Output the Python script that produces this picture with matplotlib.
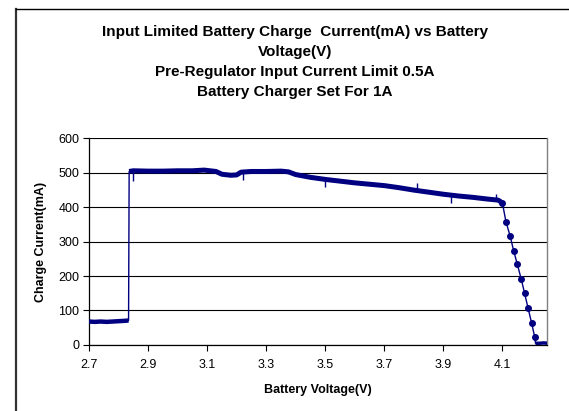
import numpy as np
import matplotlib.pyplot as plt
from matplotlib.lines import Line2D

plt.rcParams['font.family'] = ['Liberation Sans', 'DejaVu Sans']

#pre-charge segment (V, mA)
low_v = [2.700, 2.720, 2.740, 2.760, 2.780, 2.800, 2.820, 2.834]
low_i = [68, 67, 68, 67, 68, 69, 70, 71]

#constant current segment, input limited
main_v = [2.836, 2.850, 2.900, 2.950, 3.000, 3.050, 3.090, 3.130, 3.150, 3.180,
          3.200, 3.215, 3.250, 3.300, 3.350, 3.375, 3.400, 3.450, 3.500, 3.550,
          3.600, 3.650, 3.700, 3.750, 3.800, 3.850, 3.900, 3.950, 4.000, 4.050,
          4.085, 4.095]
main_i = [503, 505, 504, 504, 505, 505, 507, 503, 495, 492,
          493, 501, 503, 503, 504, 502, 494, 486, 480, 475,
          470, 466, 462, 456, 449, 443, 437, 432, 428, 423,
          420, 415]

#staircase while the battery charger tapers off
step_v = [4.100, 4.112, 4.126, 4.138, 4.150, 4.164, 4.175, 4.187, 4.199, 4.209]
step_i = [411, 357, 316, 273, 235, 190, 150, 106, 63, 24]

#end of charge
tail_v = [4.212, 4.225, 4.240, 4.252]
tail_i = [5, 5, 6, 5]

#visible spikes on the trace (V, tip mA)
spike_v = [2.850, 3.220, 3.500, 3.810, 3.925, 4.077]
spike_i = [476, 478, 457, 469, 411, 438]

y_ticks = [0, 100, 200, 300, 400, 500, 600]
x_ticks = [2.7, 2.9, 3.1, 3.3, 3.5, 3.7, 3.9, 4.1]

navy = '#000080'

fig = plt.figure(figsize=(5.69, 4.11), dpi=100)
ax = fig.add_axes([0.1564, 0.1606, 0.805, 0.5036])

#whole trace as thin line
all_v = low_v + main_v + step_v + tail_v
all_i = low_i + main_i + step_i + tail_i
ax.plot(all_v, all_i, color=navy, lw=1.0, zorder=3)

#noisy band on the flat parts
ax.plot(low_v, low_i, color=navy, lw=3.2, solid_capstyle='butt', zorder=3)
ax.plot(main_v, main_i, color=navy, lw=3.6, solid_capstyle='butt', zorder=3)
ax.plot(tail_v, tail_i, color=navy, lw=2.5, solid_capstyle='butt', zorder=3)
ax.plot(step_v, step_i, 'o', color=navy, ms=4, zorder=3)

#spikes
base = np.interp(spike_v, main_v, main_i)
ax.vlines(spike_v, base, spike_i, color=navy, lw=1.0, zorder=3)

ax.set_xlim(2.7, 4.251)
ax.set_ylim(0, 600)
ax.set_xticks(x_ticks)
ax.set_xticklabels([f"{t:.1f}" for t in x_ticks])
ax.set_yticks(y_ticks)
ax.tick_params(labelsize=9, length=4, width=0.8, direction='out', colors='black', pad=3)
ax.tick_params(axis='x', pad=6)

ax.grid(axis='y', color='black', lw=0.8)
ax.set_axisbelow(True)
for s in ['top', 'right']:
    ax.spines[s].set_color('#808080')
    ax.spines[s].set_linewidth(1.0)
ax.spines['top'].set_visible(False)
for s in ['left', 'bottom']:
    ax.spines[s].set_color('black')
    ax.spines[s].set_linewidth(0.9)

ax.set_xlabel("Battery Voltage(V)", fontsize=9, fontweight='bold', labelpad=9.5)
ax.set_ylabel("Charge Current(mA)", fontsize=9, fontweight='bold', labelpad=8)

#title block
titles = ["Input Limited Battery Charge  Current(mA) vs Battery",
          "Voltage(V)",
          "Pre-Regulator Input Current Limit 0.5A",
          "Battery Charger Set For 1A"]
for k, t in enumerate(titles):
    fig.text(295/569, 1 - (32 + 20*k)/411, t, ha='center', va='center',
             fontsize=11, fontweight='bold')

#outer chart frame
fig.add_artist(Line2D([16/569, 16/569], [0, 1 - 9/411], color='#333333', lw=1.6))
fig.add_artist(Line2D([16/569, 1], [1 - 9/411, 1 - 9/411], color='black', lw=1.0))

fig.savefig('out.png', dpi=100)
